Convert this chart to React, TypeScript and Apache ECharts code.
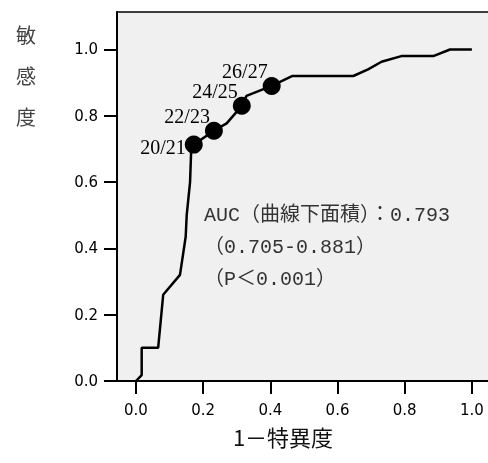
import React, { useEffect, useRef } from "react";
import * as echarts from "echarts";

const xTicks = [0, 0.2, 0.4, 0.6, 0.8, 1.0];
const yTicks = [0, 0.2, 0.4, 0.6, 0.8, 1.0];

const rocCurve: [number, number][] = [
  [0, 0], [0.017, 0.018], [0.017, 0.1], [0.066, 0.1], [0.081, 0.26],
  [0.131, 0.32], [0.148, 0.435], [0.151, 0.5], [0.161, 0.6], [0.165, 0.715],
  [0.172, 0.713], [0.232, 0.755], [0.27, 0.777], [0.315, 0.83], [0.329, 0.86],
  [0.404, 0.89], [0.466, 0.92], [0.647, 0.92], [0.691, 0.94], [0.731, 0.963],
  [0.79, 0.98], [0.885, 0.98], [0.935, 1.0], [1.0, 1.0],
];

const cutoffPoints: [number, number][] = [
  [0.172, 0.713], [0.232, 0.755], [0.315, 0.83], [0.404, 0.89],
];
const cutoffLabels = ["20/21", "22/23", "24/25", "26/27"];

const xTitle = "1－特異度";
const yTitle = "敏\n感\n度";
const aucText = "AUC（曲線下面積）：0.793\n（0.705-0.881）\n（P＜0.001）";

export default function App() {
  const ref = useRef<HTMLDivElement>(null);
  useEffect(() => {
    if (!ref.current) return;
    const chart = echarts.init(ref.current, null, { renderer: "svg" });
    const tickLabel = {
      fontSize: 15,
      fontFamily: "DejaVu Sans",
      color: "#000",
      formatter: (v: number) => v.toFixed(1),
    };
    chart.setOption({
      animation: false,
      grid: {
        left: 117, right: 0, top: 12, bottom: 82,
        show: true, backgroundColor: "#f0f0f0", borderWidth: 0,
      },
      xAxis: [
        {
          type: "value", min: -0.0565, max: 1.048,
          axisLine: { show: true, onZero: false, lineStyle: { color: "#000", width: 2 } },
          axisTick: { show: true, length: 13, customValues: xTicks, lineStyle: { color: "#000", width: 2 } },
          axisLabel: { ...tickLabel, margin: 21, customValues: xTicks },
          splitLine: { show: false },
          name: xTitle,
          nameLocation: "middle",
          nameGap: 44,
          nameTextStyle: { fontSize: 22, fontFamily: "Noto Sans CJK JP", color: "#111", padding: [0, 39, 0, 0] },
        },
        {
          type: "value", min: -0.0565, max: 1.048, position: "top",
          axisLine: { show: true, onZero: false, lineStyle: { color: "#000", width: 1.5 } },
          axisTick: { show: false }, axisLabel: { show: false }, splitLine: { show: false },
        },
      ],
      yAxis: {
        type: "value", min: 0, max: 1.113,
        axisLine: { show: true, onZero: false, lineStyle: { color: "#000", width: 2 } },
        axisTick: { show: true, length: 13, customValues: yTicks, lineStyle: { color: "#000", width: 2 } },
        axisLabel: { ...tickLabel, margin: 19, customValues: yTicks },
        splitLine: { show: false },
      },
      series: [
        {
          type: "line", data: rocCurve, symbol: "none",
          lineStyle: { color: "#000", width: 2.5 },
          z: 2,
        },
        {
          type: "scatter",
          data: cutoffPoints.map((p, i) => ({
            value: p,
            label: {
              show: true,
              formatter: cutoffLabels[i],
              position: i === 0 ? [1, 11] : [5, -6],
              align: "right",
              verticalAlign: "middle",
            },
          })),
          symbolSize: 18,
          itemStyle: { color: "#000", opacity: 1 },
          label: { fontSize: 20, fontFamily: "Liberation Serif", color: "#000" },
          z: 3,
        },
      ],
      graphic: [
        {
          type: "text", x: 26, y: 14,
          style: {
            text: yTitle, fontSize: 20, lineHeight: 41, fontFamily: "Noto Sans CJK JP",
            fill: "#444", align: "center", verticalAlign: "top",
          },
        },
        {
          type: "text", x: 204, y: 199,
          style: {
            text: aucText, fontSize: 20, lineHeight: 32,
            fontFamily: "'Liberation Mono', 'Noto Sans CJK JP'",
            fill: "#333", align: "left", verticalAlign: "top",
          },
        },
      ],
    });
    return () => chart.dispose();
  }, []);
  return (
    <div
      ref={ref}
      style={{ position: "fixed", left: 0, top: 0, width: 488, height: 463 }}
    />
  );
}
